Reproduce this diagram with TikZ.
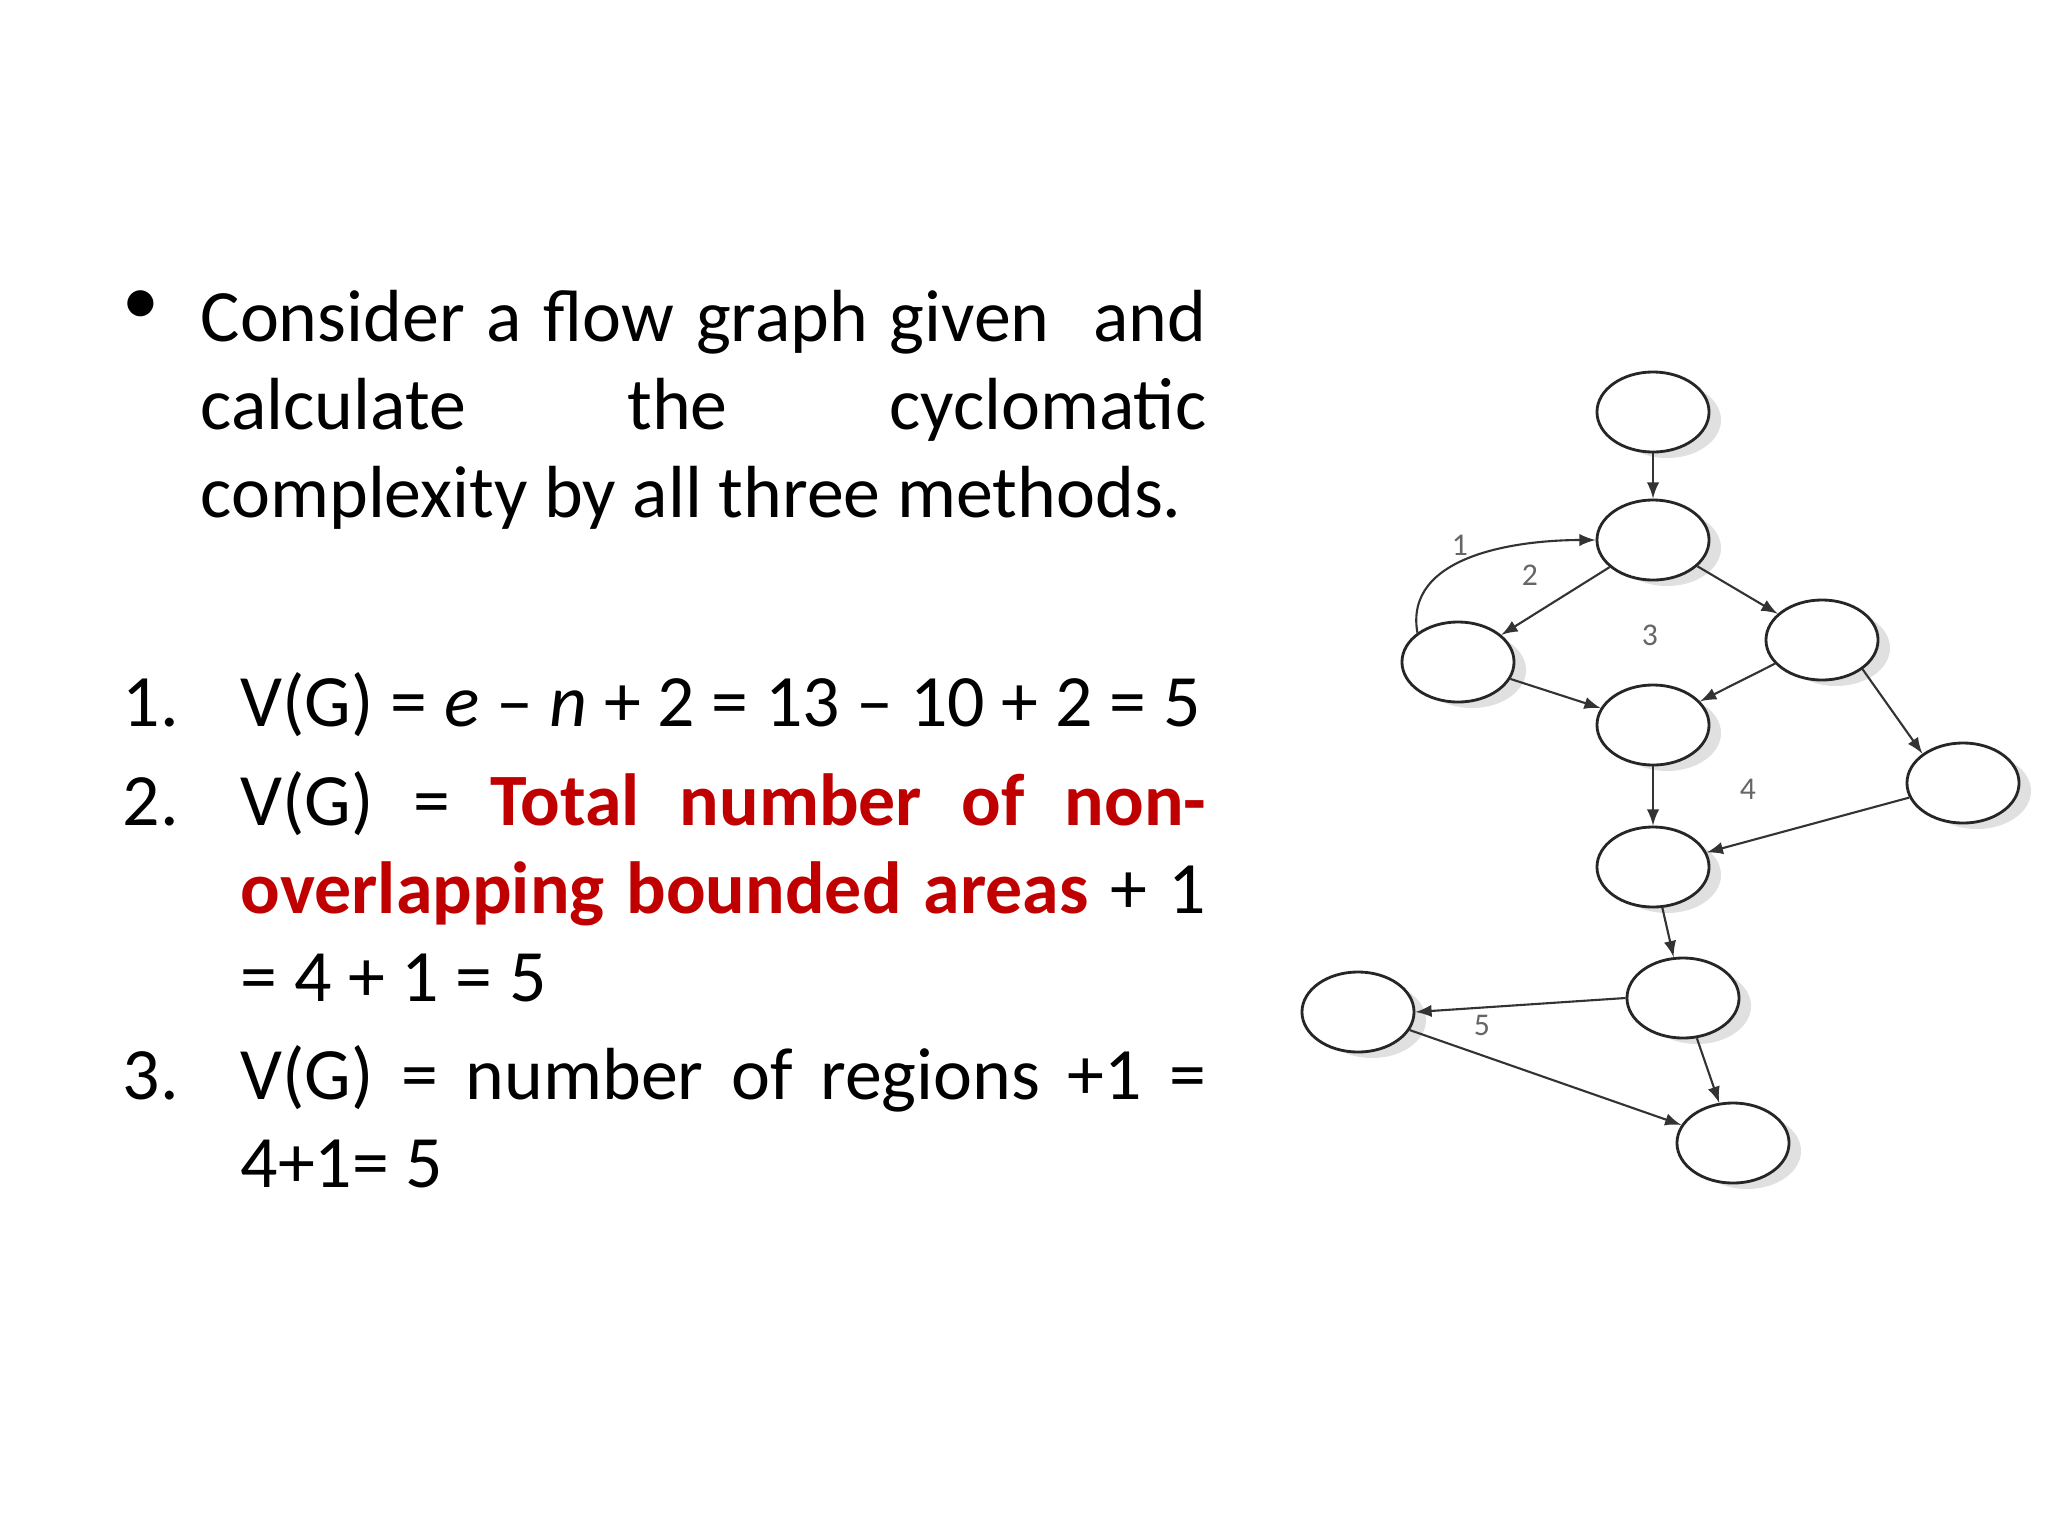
\documentclass[tikz,border=0pt]{standalone}
\usepackage{fontspec}
\setmainfont{Carlito}
\usepackage{xcolor}
\usetikzlibrary{shapes.geometric}
\definecolor{redt}{RGB}{192,0,0}
\newcommand{\itm}[1]{\hangindent=1.18cm\hangafter=1\noindent\makebox[1.18cm][l]{#1}}
\begin{document}
\begin{tikzpicture}[x=0.01cm,y=-0.01cm,
  gn/.style={draw=black!85,line width=0.8pt,ellipse,minimum width=1.12cm,minimum height=0.8cm,fill=white},
  ed/.style={-latex,draw=black!80,line width=0.6pt},
  lb/.style={font=\fontsize{9}{9}\selectfont,text=black!60},
  tx/.style={anchor=north west,align=justify,font=\fontsize{21}{25}\selectfont,inner sep=0}]
\useasboundingbox (0,0) rectangle (2048,1536);
\fill[white] (0,0) rectangle (2048,1536);
% text
\node[tx,text width=10.05cm] (t1) at (200,290)
 {\hyphenpenalty=10000 Consider a flow graph given\ \ and\linebreak calculate the cyclomatic\linebreak complexity by all three methods.};
\node[anchor=north west,inner sep=0,font=\fontsize{21}{25}\selectfont] (b) at (122,290) {•};
\node[tx,text width=10.83cm] (items) at (122,672)
 {\hyphenpenalty=10000
 \itm{1.}V(G) = \textit{e} – \textit{n} + 2 = 13 – 10 + 2 = 5\par
 \vspace{3pt}
 \itm{2.}V(G) = \textcolor{redt}{\textbf{Total number of non-}}\linebreak\textcolor{redt}{\textbf{overlapping bounded areas}} + 1\linebreak = 4 + 1 = 5\par
 \vspace{3pt}
 \itm{3.}V(G) = number of regions +1 =\linebreak 4+1= 5\par};
% graph shadows
\foreach \x/\y in {1653/412,1653/540,1458/662,1822/640,1653/725,1963/783,1653/867,1683/998,1358/1012,1733/1143}
  \fill[black!12] (\x+14,\y+8) ellipse (54 and 38);
\node[gn] (n1) at (1653,412) {};
\node[gn] (n2) at (1653,540) {};
\node[gn] (n3) at (1458,662) {};
\node[gn] (n4) at (1822,640) {};
\node[gn] (n5) at (1653,725) {};
\node[gn] (n6) at (1963,783) {};
\node[gn] (n7) at (1653,867) {};
\node[gn] (n8) at (1683,998) {};
\node[gn] (n9) at (1358,1012) {};
\node[gn] (n10) at (1733,1143) {};
\draw[ed] (n1)--(n2);
\draw[ed] (n2)--(n3);
\draw[ed] (n2)--(n4);
\draw[ed] (n3)--(n5);
\draw[ed] (n4)--(n5);
\draw[ed] (n4.south east)--(n6.north west);
\draw[ed] (n5)--(n7);
\draw[ed] (n6)--(n7);
\draw[ed] (n7)--(n8);
\draw[ed] (n8.west)--(n9.east);
\draw[ed] (n8)--(n10);
\draw[ed] (n9)--(n10);
\draw[ed] (n3.north west) to[out=100,in=180] (n2.west);
\node[lb] (l1) at (1460,545) {1};
\node[lb] (l2) at (1530,575) {2};
\node[lb] (l3) at (1650,635) {3};
\node[lb] (l4) at (1748,789) {4};
\node[lb] (l5) at (1482,1025) {5};
\end{tikzpicture}
\end{document}
